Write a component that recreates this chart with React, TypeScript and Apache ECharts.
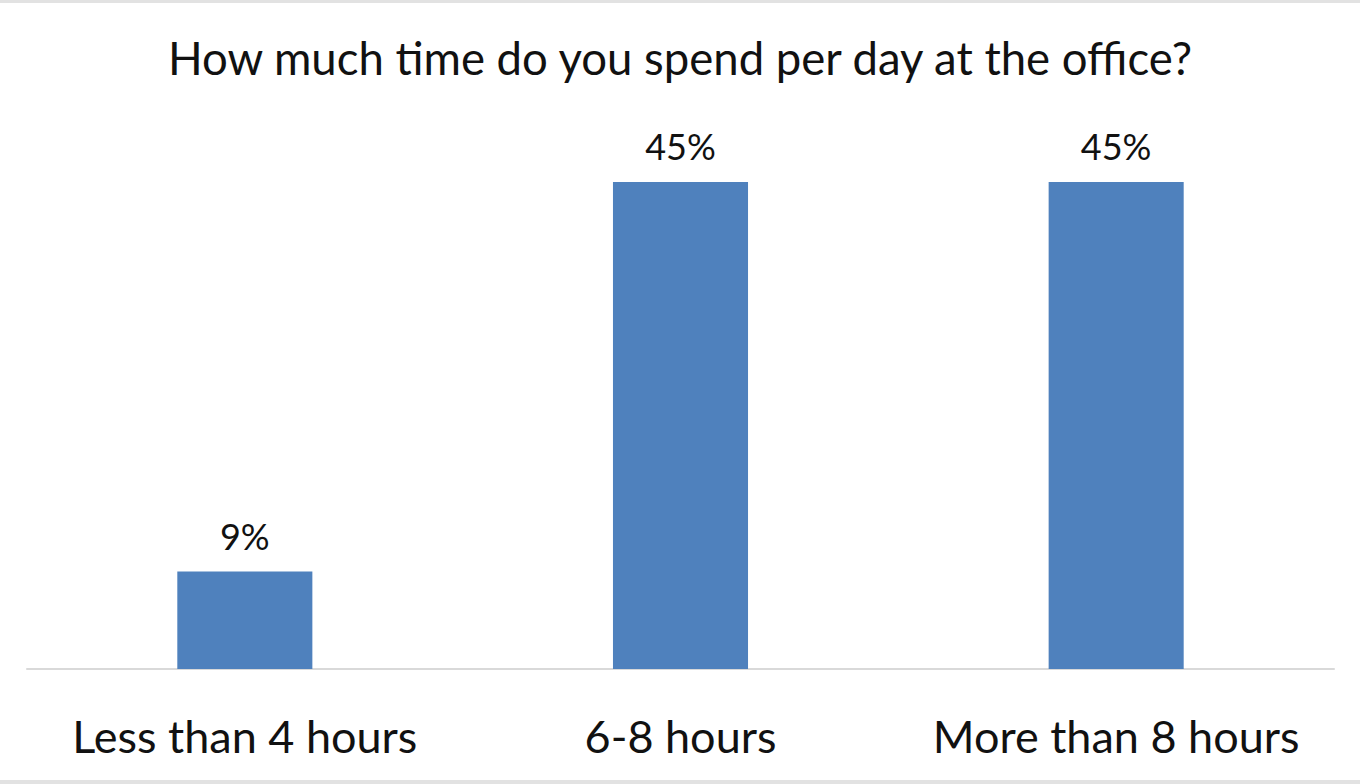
import { useRef, useEffect } from 'react';
import * as echarts from 'echarts';

const categories = ['Less than 4 hours', '6-8 hours', 'More than 8 hours'];
const shares = [9, 45, 45];

const FONT = 'Lato, "Open Sans", sans-serif';

export default function App() {
  const chartRef = useRef<HTMLDivElement>(null);

  useEffect(() => {
    document.body.style.margin = '0';
    let chart: echarts.ECharts | undefined;

    if (chartRef.current) {
      chart = echarts.init(chartRef.current, null, { renderer: 'svg' });

      chart.setOption({
        animation: false,
        backgroundColor: '#ffffff',
        title: {
          text: 'How much time do you spend per day at the office?',
          left: 'center',
          top: 26,
          textStyle: { fontSize: 45.5, fontWeight: 'normal', color: '#111', fontFamily: FONT },
        },
        grid: { left: 27, right: 26, top: 179, bottom: 111 },
        xAxis: {
          type: 'category',
          data: categories,
          axisLine: { lineStyle: { color: '#d9d9d9', width: 2 } },
          axisTick: { show: false },
          axisLabel: {
            interval: 0,
            hideOverlap: false,
            margin: 44,
            fontSize: 45,
            color: '#111',
            fontFamily: FONT,
          },
        },
        yAxis: {
          type: 'value',
          min: 0,
          max: 45,
          show: false,
        },
        series: [
          {
            type: 'bar',
            data: shares,
            barWidth: '31%',
            itemStyle: { color: '#4f81bd' },
            label: {
              show: true,
              position: 'top',
              distance: 18,
              formatter: '{c}%',
              fontSize: 36,
              color: '#111',
              fontFamily: FONT,
            },
          },
        ],
      });
    }

    return () => {
      chart?.dispose();
    };
  }, []);

  return (
    <div
      style={{
        width: 1360,
        height: 784,
        boxSizing: 'border-box',
        borderTop: '3px solid #e2e2e2',
        borderBottom: '4px solid #e2e2e2',
        background: '#fff',
      }}
    >
      <div ref={chartRef} style={{ height: '100%', width: '100%' }} />
    </div>
  );
}
